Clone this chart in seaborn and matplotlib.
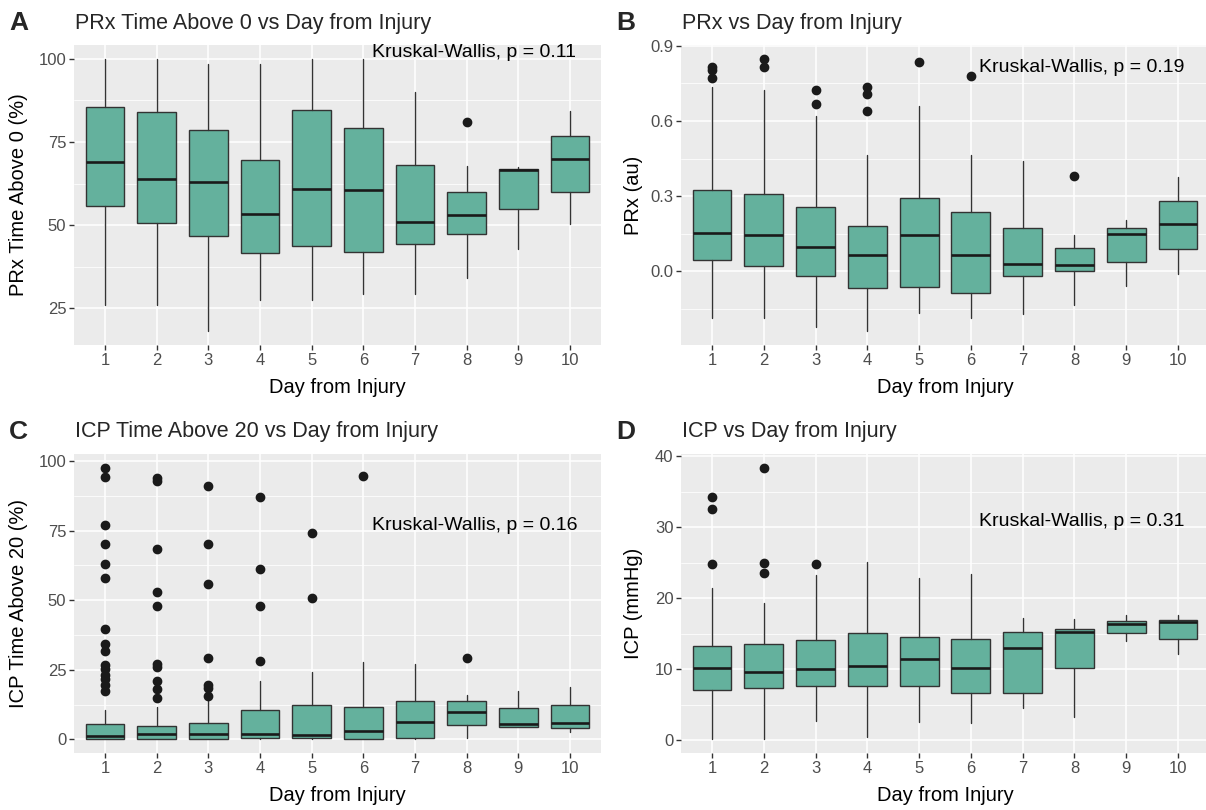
import numpy as np
import matplotlib.pyplot as plt
import seaborn as sns
from matplotlib.ticker import FixedLocator

# days from injury (x categories)
days = [str(d) for d in range(1, 11)]

# A: PRx time above 0 (%) - five number summaries
a_lo = [25.9, 25.9, 18.1, 27.6, 27.6, 29.2, 29.2, 34.0, 42.8, 50.4]
a_q1 = [55.6, 50.6, 46.7, 41.6, 43.6, 42.0, 44.3, 47.2, 54.7, 60.0]
a_med = [69.1, 63.9, 63.1, 53.4, 61.0, 60.5, 50.9, 52.9, 66.7, 69.8]
a_q3 = [85.4, 84.0, 78.5, 69.7, 84.6, 79.1, 68.0, 59.9, 66.9, 76.8]
a_hi = [100, 100, 98.5, 98.5, 100, 100, 90.1, 67.7, 67.4, 84.2]
a_out = [[], [], [], [], [], [], [], [81.0], [], []]

# B: PRx (au)
b_lo = [-0.187, -0.187, -0.221, -0.239, -0.166, -0.187, -0.170, -0.132, -0.059, -0.009]
b_q1 = [0.044, 0.021, -0.017, -0.067, -0.063, -0.087, -0.017, 0.0, 0.037, 0.091]
b_med = [0.155, 0.144, 0.098, 0.064, 0.144, 0.064, 0.031, 0.027, 0.151, 0.189]
b_q3 = [0.325, 0.309, 0.258, 0.183, 0.292, 0.237, 0.173, 0.095, 0.174, 0.281]
b_hi = [0.737, 0.724, 0.619, 0.463, 0.659, 0.463, 0.439, 0.147, 0.205, 0.378]
b_out = [[0.815, 0.805, 0.770], [0.849, 0.815], [0.725, 0.667],
         [0.737, 0.706, 0.639], [0.836], [0.780], [], [0.381], [], []]

# C: ICP time above 20 (%)
c_lo = [0, 0, 0, 0, 0, 0, 0, 0.4, 4.5, 2.5]
c_q1 = [0, 0, 0, 0.6, 0.4, 0, 0.6, 5.1, 4.5, 4.2]
c_med = [1.4, 2.0, 2.1, 2.1, 1.6, 3.0, 6.3, 9.9, 5.4, 6.0]
c_q3 = [5.5, 4.8, 6.0, 10.7, 12.3, 11.7, 13.8, 13.8, 11.1, 12.3]
c_hi = [10.7, 11.8, 14.2, 21.1, 24.3, 27.9, 26.9, 15.9, 17.3, 18.9]
c_out = [[97.6, 94.1, 77.0, 70.0, 63.0, 58.0, 39.5, 34.2, 31.6, 26.8, 25.2, 23.2, 21.7, 19.6, 17.5],
         [93.9, 92.9, 68.5, 52.9, 47.8, 27.0, 26.1, 20.8, 18.1, 14.9],
         [91.0, 70.0, 55.9, 29.1, 19.5, 18.5, 15.5],
         [87.1, 61.2, 47.8, 28.0],
         [74.0, 50.8],
         [94.6], [], [29.3], [], []]

# D: ICP (mmHg)
d_lo = [0.1, 0.1, 2.7, 0.4, 2.5, 2.4, 4.5, 3.2, 14.0, 12.1]
d_q1 = [7.1, 7.4, 7.6, 7.6, 7.6, 6.6, 6.7, 10.2, 15.1, 14.2]
d_med = [10.1, 9.6, 10.0, 10.5, 11.4, 10.1, 13.0, 15.2, 16.3, 16.7]
d_q3 = [13.2, 13.6, 14.1, 15.1, 14.6, 14.3, 15.3, 15.6, 16.8, 16.9]
d_hi = [21.4, 19.3, 23.3, 25.1, 22.9, 23.4, 17.2, 17.0, 17.7, 17.7]
d_out = [[34.3, 32.5, 24.8], [38.4, 25.0, 23.6], [24.8], [], [], [], [], [], [], []]

panels = [
    ("A", "PRx Time Above 0 vs Day from Injury", "PRx Time Above 0 (%)",
     a_lo, a_q1, a_med, a_q3, a_hi, a_out, [25, 50, 75, 100], ["25", "50", "75", "100"],
     "Kruskal-Wallis, p = 0.11", 101.7),
    ("B", "PRx vs Day from Injury", "PRx (au)",
     b_lo, b_q1, b_med, b_q3, b_hi, b_out, [0.0, 0.3, 0.6, 0.9], ["0.0", "0.3", "0.6", "0.9"],
     "Kruskal-Wallis, p = 0.19", 0.815),
    ("C", "ICP Time Above 20 vs Day from Injury", "ICP Time Above 20 (%)",
     c_lo, c_q1, c_med, c_q3, c_hi, c_out, [0, 25, 50, 75, 100], ["0", "25", "50", "75", "100"],
     "Kruskal-Wallis, p = 0.16", 76.8),
    ("D", "ICP vs Day from Injury", "ICP (mmHg)",
     d_lo, d_q1, d_med, d_q3, d_hi, d_out, [0, 10, 20, 30, 40], ["0", "10", "20", "30", "40"],
     "Kruskal-Wallis, p = 0.31", 30.8),
]

FILL = "#64B19D"

sns.set_theme(style="darkgrid", rc={"axes.facecolor": "#EBEBEB", "grid.color": "white"})
plt.rcParams['font.family'] = ['Liberation Sans', 'DejaVu Sans']

W, H = 1206, 810
fig = plt.figure(figsize=(W / 100, H / 100), dpi=100)

# pixel boxes (left, top, right, bottom) of each panel
boxes = [(74, 45, 601, 345), (681, 45, 1209, 345), (74, 454, 601, 753), (681, 454, 1209, 753)]
ylab_x = [28, 643, 28, 643]

for (letter, title, ylabel, lo, q1, med, q3, hi, out, yt, ytl, kw, kw_y), (l, t, r, b), yx in zip(panels, boxes, ylab_x):
    ax = fig.add_axes([l / W, 1 - b / H, (r - l) / W, (b - t) / H])
    ax.set_axisbelow(True)
    stats = [dict(whislo=lo[i], q1=q1[i], med=med[i], q3=q3[i], whishi=hi[i],
                  fliers=np.array(out[i]), label=days[i]) for i in range(len(days))]
    ax.bxp(stats, positions=range(len(days)), widths=0.75, patch_artist=True, showcaps=False,
           boxprops=dict(facecolor=FILL, edgecolor="#333333", linewidth=1.0),
           medianprops=dict(color="#1a1a1a", linewidth=1.9),
           whiskerprops=dict(color="#333333", linewidth=1.0),
           flierprops=dict(marker="o", markerfacecolor="#1a1a1a", markeredgecolor="#1a1a1a",
                           markersize=6, linestyle="none"))

    allv = lo + hi + [v for o in out for v in o]
    vmin, vmax = min(allv), max(allv)
    pad = 0.05 * (vmax - vmin)
    ax.set_ylim(vmin - pad, vmax + pad)
    ax.set_xlim(-0.6, len(days) - 0.4)

    ax.set_xticks(range(len(days)))
    ax.set_xticklabels(days)
    ax.set_yticks(yt)
    ax.set_yticklabels(ytl)
    step = yt[1] - yt[0]
    minors = [v + step / 2 for v in [yt[0] - step] + yt]
    ax.yaxis.set_minor_locator(FixedLocator(minors))
    ax.grid(which="major", color="white", linewidth=1.1)
    ax.grid(which="minor", axis="y", color="white", linewidth=0.55)
    for s in ax.spines.values():
        s.set_visible(False)
    ax.tick_params(which="major", length=3.5, width=1.0, color="#333333",
                   labelcolor="#4D4D4D", labelsize=12, pad=2, bottom=True, left=True)
    ax.tick_params(which="minor", length=0)

    ax.set_xlabel("Day from Injury", fontsize=14.5, color="black")
    ax.xaxis.set_label_coords(0.5, -33 / (b - t))
    ax.set_ylabel(ylabel, fontsize=14.5, color="black")
    ax.yaxis.set_label_coords((yx - l) / (r - l), 0.5)

    ax.text(0.565, kw_y, kw, transform=ax.get_yaxis_transform(), fontsize=14,
            ha="left", va="center", color="black")

    fig.text((l + 1) / W, 1 - (t - 22) / H, title, fontsize=15.5, ha="left", va="center")
    fig.text((l - 65) / W, 1 - (t - 22) / H, letter, fontsize=19, fontweight="bold",
             ha="left", va="center")

fig.savefig("out.png", dpi=100)
